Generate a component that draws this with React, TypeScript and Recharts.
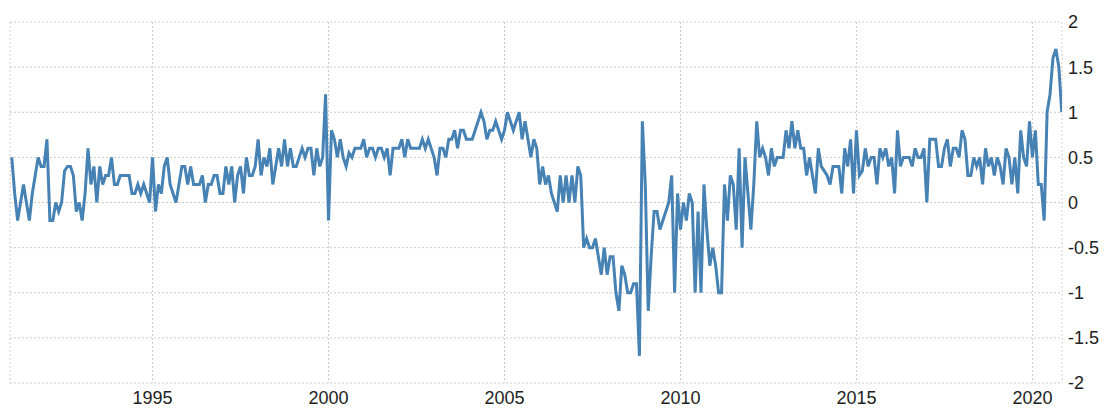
import React from 'react';
import { LineChart, Line, XAxis, YAxis, CartesianGrid } from 'recharts';

const years = [1991, 1992, 1993, 1994, 1995, 1996, 1997, 1998, 1999, 2000, 2001, 2002, 2003, 2004, 2005, 2006, 2007, 2008, 2009, 2010, 2011, 2012, 2013, 2014, 2015, 2016, 2017, 2018, 2019, 2020];

const v1991 = [0.5, 0.1, -0.2, 0.0, 0.2, 0.0, -0.2, 0.1, 0.3, 0.5, 0.4, 0.4];
const v1992 = [0.7, -0.2, -0.2, 0.0, -0.1, 0.0, 0.35, 0.4, 0.4, 0.3, -0.1, 0.0];
const v1993 = [-0.2, 0.1, 0.6, 0.2, 0.4, 0.0, 0.4, 0.2, 0.3, 0.3, 0.5, 0.2];
const v1994 = [0.2, 0.3, 0.3, 0.3, 0.3, 0.1, 0.1, 0.2, 0.1, 0.2, 0.1, 0.0];
const v1995 = [0.5, -0.1, 0.2, 0.1, 0.4, 0.5, 0.2, 0.1, 0.0, 0.2, 0.4, 0.4];
const v1996 = [0.2, 0.4, 0.2, 0.2, 0.2, 0.3, 0.0, 0.2, 0.2, 0.3, 0.3, 0.1];
const v1997 = [0.1, 0.4, 0.2, 0.4, 0.0, 0.3, 0.4, 0.1, 0.5, 0.3, 0.3, 0.4];
const v1998 = [0.7, 0.3, 0.5, 0.4, 0.6, 0.2, 0.4, 0.6, 0.4, 0.7, 0.4, 0.6];
const v1999 = [0.4, 0.4, 0.5, 0.6, 0.5, 0.6, 0.6, 0.3, 0.6, 0.4, 0.5, 1.2];
const v2000 = [-0.2, 0.8, 0.7, 0.5, 0.7, 0.5, 0.4, 0.55, 0.5, 0.6, 0.6, 0.6];
const v2001 = [0.7, 0.5, 0.6, 0.6, 0.5, 0.6, 0.6, 0.5, 0.6, 0.3, 0.6, 0.6];
const v2002 = [0.6, 0.7, 0.5, 0.7, 0.6, 0.6, 0.6, 0.6, 0.7, 0.6, 0.7, 0.6];
const v2003 = [0.5, 0.3, 0.6, 0.6, 0.5, 0.7, 0.7, 0.8, 0.6, 0.8, 0.8, 0.7];
const v2004 = [0.7, 0.7, 0.8, 0.9, 1.0, 0.9, 0.7, 0.8, 0.8, 0.9, 0.8, 0.7];
const v2005 = [0.8, 1.0, 0.9, 0.8, 0.9, 1.0, 0.7, 0.9, 0.7, 0.5, 0.7, 0.6];
const v2006 = [0.2, 0.4, 0.2, 0.3, 0.1, 0.0, -0.1, 0.3, 0.0, 0.3, 0.0, 0.3];
const v2007 = [0.0, 0.4, 0.3, -0.5, -0.4, -0.5, -0.5, -0.4, -0.6, -0.8, -0.5, -0.8];
const v2008 = [-0.6, -0.6, -1.0, -1.2, -0.7, -0.8, -1.0, -1.0, -0.9, -0.9, -1.7, 0.9];
const v2009 = [0.2, -1.2, -0.6, -0.1, -0.1, -0.3, -0.2, -0.1, 0.0, 0.3, -1.0, 0.1];
const v2010 = [-0.3, 0.0, -0.2, 0.1, 0.0, -1.0, -0.1, -1.0, 0.2, -0.3, -0.7, -0.5];
const v2011 = [-0.7, -1.0, -1.0, 0.2, -0.2, 0.3, 0.2, -0.3, 0.6, -0.5, 0.5, 0.1];
const v2012 = [-0.3, 0.2, 0.9, 0.5, 0.6, 0.5, 0.3, 0.6, 0.4, 0.5, 0.5, 0.5];
const v2013 = [0.8, 0.6, 0.9, 0.6, 0.8, 0.6, 0.6, 0.3, 0.5, 0.3, 0.1, 0.6];
const v2014 = [0.4, 0.35, 0.3, 0.2, 0.4, 0.4, 0.4, 0.1, 0.6, 0.4, 0.7, 0.1];
const v2015 = [0.8, 0.3, 0.35, 0.6, 0.4, 0.5, 0.5, 0.2, 0.6, 0.5, 0.6, 0.4];
const v2016 = [0.5, 0.1, 0.8, 0.4, 0.5, 0.5, 0.5, 0.4, 0.6, 0.5, 0.5, 0.6];
const v2017 = [0.0, 0.7, 0.7, 0.7, 0.4, 0.4, 0.6, 0.7, 0.4, 0.6, 0.6, 0.5];
const v2018 = [0.8, 0.7, 0.3, 0.3, 0.5, 0.4, 0.5, 0.2, 0.6, 0.4, 0.5, 0.3];
const v2019 = [0.5, 0.4, 0.2, 0.6, 0.5, 0.2, 0.5, 0.1, 0.8, 0.5, 0.4, 0.9];
const v2020 = [0.5, 0.8, 0.2, 0.2, -0.2, 1.0, 1.2, 1.6, 1.7, 1.5, 1.0];

const yearlyValues = [v1991, v1992, v1993, v1994, v1995, v1996, v1997, v1998, v1999, v2000, v2001, v2002, v2003, v2004, v2005, v2006, v2007, v2008, v2009, v2010, v2011, v2012, v2013, v2014, v2015, v2016, v2017, v2018, v2019, v2020];

const xTicks = [1995, 2000, 2005, 2010, 2015, 2020];
const yTicks = [-2, -1.5, -1, -0.5, 0, 0.5, 1, 1.5, 2];

const data = years.flatMap((year, yi) =>
  yearlyValues[yi].map((value, m) => ({ t: year + m / 12, value }))
);

const tickStyle = { fontFamily: 'Liberation Sans, Arial, sans-serif', fontSize: 18, fill: '#222' };

export default function App() {
  return (
    <LineChart width={1094} height={401} data={data} margin={{ top: 14, right: 0, bottom: 0, left: 2 }}>
      <CartesianGrid stroke="#cccccc" strokeDasharray="2 2" />
      <XAxis
        dataKey="t"
        type="number"
        domain={[1990.95, 2020.84]}
        ticks={xTicks}
        axisLine={false}
        tickLine={false}
        tickSize={0}
        tickMargin={8}
        height={26}
        tick={tickStyle}
        interval={0}
        allowDataOverflow
      />
      <YAxis
        orientation="right"
        domain={[-2, 2]}
        ticks={yTicks}
        axisLine={false}
        tickLine={false}
        tickSize={0}
        tickMargin={6}
        width={40}
        tick={{ ...tickStyle, textAnchor: 'start' }}
        interval={0}
      />
      <Line
        type="linear"
        dataKey="value"
        stroke="#4682b4"
        strokeWidth={3}
        dot={false}
        isAnimationActive={false}
      />
    </LineChart>
  );
}
